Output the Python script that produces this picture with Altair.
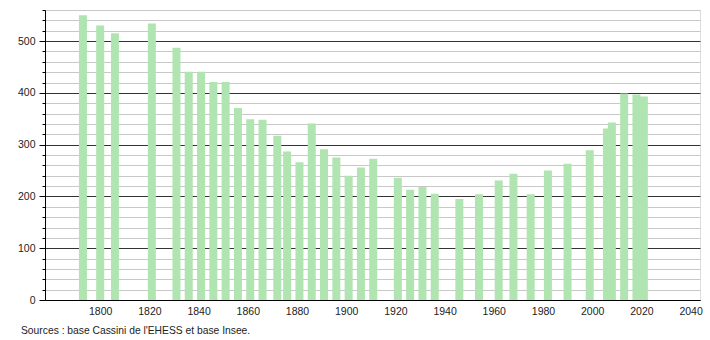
import altair as alt
import pandas as pd

years = [1793, 1800, 1806, 1821, 1831, 1836, 1841, 1846, 1851, 1856, 1861, 1866,
         1872, 1876, 1881, 1886, 1891, 1896, 1901, 1906, 1911, 1921, 1926, 1931,
         1936, 1946, 1954, 1962, 1968, 1975, 1982, 1990, 1999, 2006, 2008, 2013,
         2018, 2021]
population = [550, 530, 515, 534, 487, 441, 441, 421, 421, 371, 349, 348,
              317, 287, 266, 341, 291, 275, 240, 256, 273, 236, 213, 218,
              205, 195, 204, 231, 244, 204, 250, 263, 289, 331, 343, 399,
              397, 393]
x_ticks = [1800, 1820, 1840, 1860, 1880, 1900, 1920, 1940, 1960, 1980, 2000, 2020, 2040]
y_ticks = list(range(0, 561, 20))
source_text = "Sources : base Cassini de l'EHESS et base Insee."

df = pd.DataFrame({"year": years, "pop": population})

FONT = "Liberation Sans"

chart = alt.Chart(df).mark_bar(size=8, color="#b0e4b0").encode(
    x=alt.X("year:Q", scale=alt.Scale(domain=[1779.6, 2041.8], nice=False, zero=False),
            axis=alt.Axis(values=x_ticks, format="d", title=None, grid=False,
                          ticks=False, labelPadding=6, labelFontSize=10.5,
                          labelFont=FONT, labelColor="#222", domainColor="#000",
                          domainWidth=1, labelFlush=False)),
    y=alt.Y("pop:Q", scale=alt.Scale(domain=[0, 560], nice=False),
            axis=alt.Axis(values=y_ticks, title=None, grid=True,
                          labelExpr="datum.value % 100 === 0 ? datum.label : ''",
                          labelOverlap=False, labelFontSize=10.5, labelFont=FONT,
                          labelColor="#222", labelPadding=4,
                          gridColor={"condition": {"test": "datum.value % 100 === 0", "value": "#333"}, "value": "#c8c8c8"},
                          gridWidth=1,
                          tickSize={"condition": {"test": "datum.value % 100 === 0", "value": 6}, "value": 3},
                          tickColor="#000", domainColor="#000", domainWidth=1)),
).properties(
    width=655, height=290,
    title=alt.TitleParams(source_text, orient="bottom", anchor="start", frame="group",
                          dx=-24, offset=9, fontSize=10.3, fontWeight="normal", font=FONT,
                          color="#222"),
    autosize="none",
    padding={"left": 45, "top": 10, "right": 10, "bottom": 40},
).configure_view(stroke=None).configure(background="white")

chart.save("out.html", embed_options={"renderer": "svg", "actions": False})
